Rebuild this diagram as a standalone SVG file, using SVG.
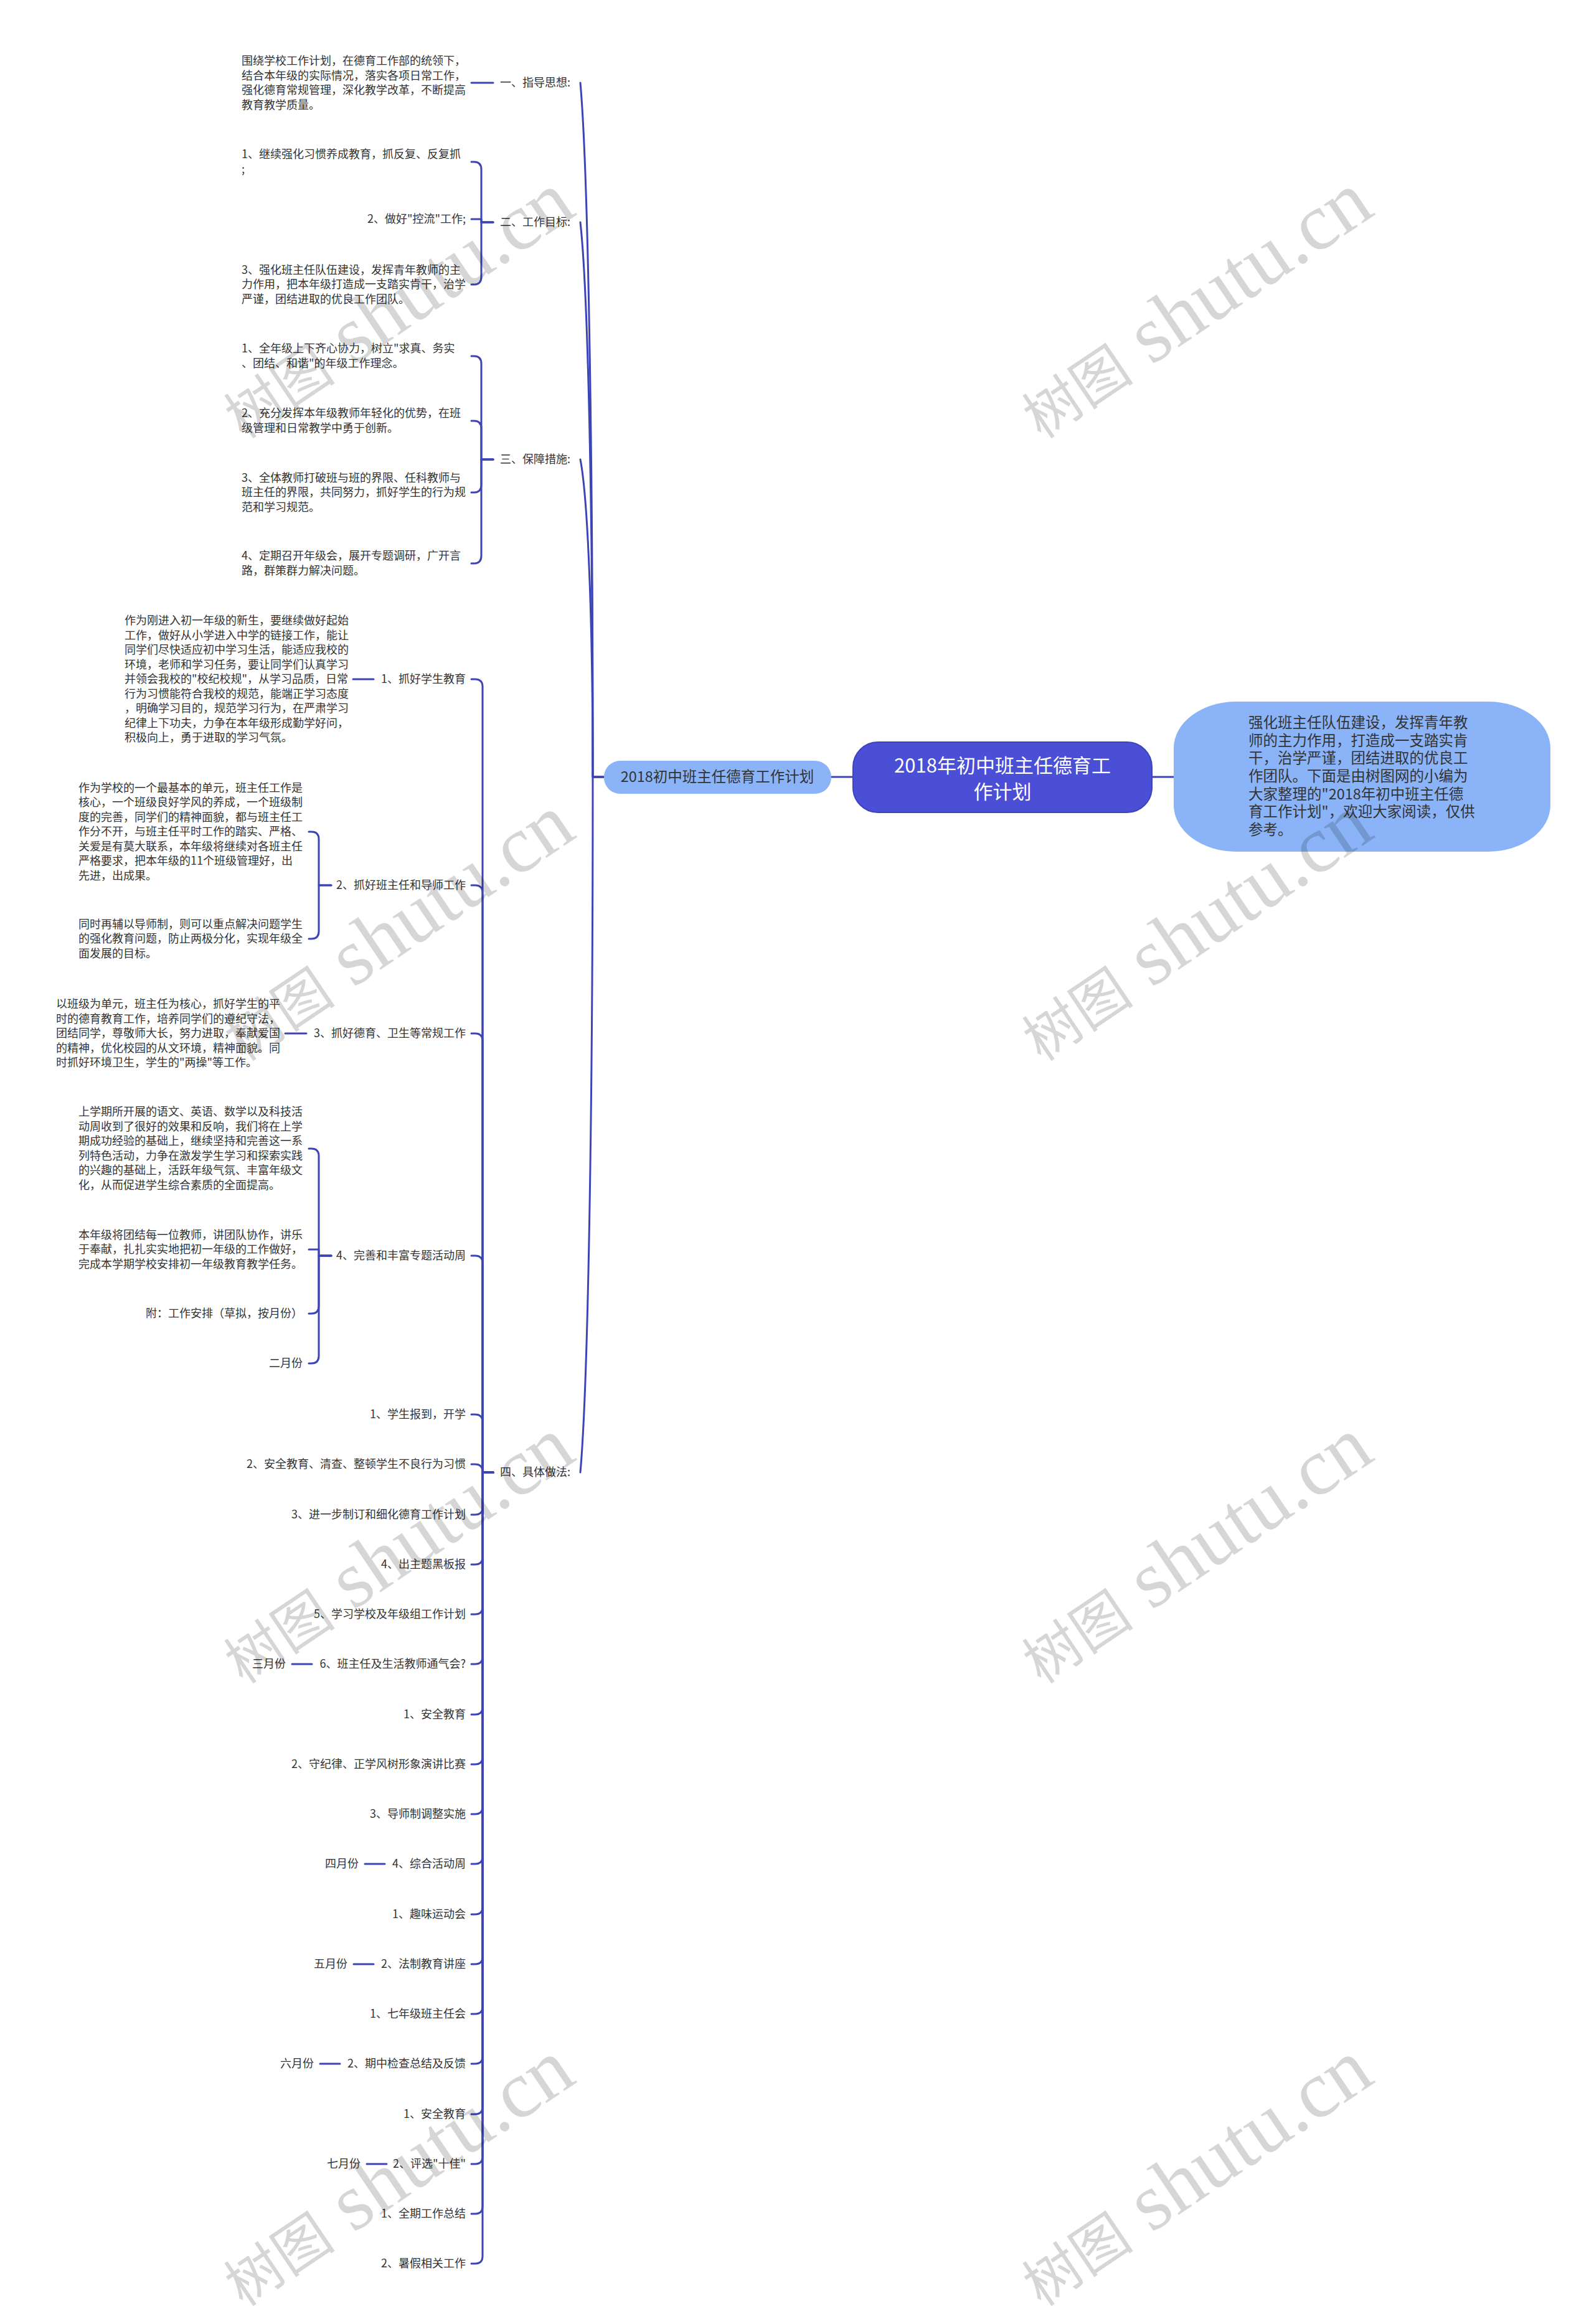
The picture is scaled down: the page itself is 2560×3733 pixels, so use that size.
<svg xmlns="http://www.w3.org/2000/svg" width="2560" height="3733" viewBox="0 0 2560 3733">
<style>
.t{font-family:"Noto Sans CJK SC","Noto Sans",sans-serif;font-size:18px;fill:#333}
.e{text-anchor:end}
.c{fill:none;stroke:#3d45b6;stroke-width:3;stroke-linecap:round;stroke-linejoin:round}
.wm{font-family:"Liberation Serif","Noto Sans CJK SC",serif;fill:#000;fill-opacity:0.16;text-anchor:middle}
</style>
<rect width="2560" height="3733" fill="#fff"/>
<g id="connectors">
<path class="c" d="M1335 1248H1370M1850 1248H1885"/>
<path class="c" d="M970 1248H952C952 690 944 267 932 133"/>
<path class="c" d="M970 1248H952C952 802 944 464 932 357"/>
<path class="c" d="M970 1248H952C952 993 944 799 932 738"/>
<path class="c" d="M970 1248H952C952 1807 944 2231 932 2365"/>
<path class="c" d="M792 133H757"/>
<path class="c" d="M792 357H773V272Q773 260 761 260H757"/>
<path class="c" d="M792 357H773V352H757"/>
<path class="c" d="M792 357H773V445Q773 457 761 457H757"/>
<path class="c" d="M792 738H773V584Q773 572 761 572H757"/>
<path class="c" d="M792 738H773V688Q773 676 761 676H757"/>
<path class="c" d="M792 738H773V779Q773 791 761 791H757"/>
<path class="c" d="M792 738H773V893Q773 905 761 905H757"/>
<path class="c" d="M792 2365H775V1103Q775 1091 763 1091H757"/>
<path class="c" d="M792 2365H775V1434Q775 1422 763 1422H757"/>
<path class="c" d="M792 2365H775V1672Q775 1660 763 1660H757"/>
<path class="c" d="M792 2365H775V2029Q775 2017 763 2017H757"/>
<path class="c" d="M792 2365H775V2284Q775 2272 763 2272H757"/>
<path class="c" d="M792 2365H775V2364Q775 2352 763 2352H757"/>
<path class="c" d="M792 2365H775V2421Q775 2433 763 2433H757"/>
<path class="c" d="M792 2365H775V2501Q775 2513 763 2513H757"/>
<path class="c" d="M792 2365H775V2581Q775 2593 763 2593H757"/>
<path class="c" d="M792 2365H775V2661Q775 2673 763 2673H757"/>
<path class="c" d="M792 2365H775V2742Q775 2754 763 2754H757"/>
<path class="c" d="M792 2365H775V2822Q775 2834 763 2834H757"/>
<path class="c" d="M792 2365H775V2902Q775 2914 763 2914H757"/>
<path class="c" d="M792 2365H775V2982Q775 2994 763 2994H757"/>
<path class="c" d="M792 2365H775V3063Q775 3075 763 3075H757"/>
<path class="c" d="M792 2365H775V3143Q775 3155 763 3155H757"/>
<path class="c" d="M792 2365H775V3223Q775 3235 763 3235H757"/>
<path class="c" d="M792 2365H775V3303Q775 3315 763 3315H757"/>
<path class="c" d="M792 2365H775V3384Q775 3396 763 3396H757"/>
<path class="c" d="M792 2365H775V3464Q775 3476 763 3476H757"/>
<path class="c" d="M792 2365H775V3544Q775 3556 763 3556H757"/>
<path class="c" d="M792 2365H775V3624Q775 3636 763 3636H757"/>
<path class="c" d="M600 1091H567"/>
<path class="c" d="M532 1422H512V1348Q512 1336 500 1336H496"/>
<path class="c" d="M532 1422H512V1496Q512 1508 500 1508H496"/>
<path class="c" d="M492 1660H458"/>
<path class="c" d="M532 2017H512V1857Q512 1845 500 1845H496"/>
<path class="c" d="M532 2017H512V2007H496"/>
<path class="c" d="M532 2017H512V2098Q512 2110 500 2110H496"/>
<path class="c" d="M532 2017H512V2178Q512 2190 500 2190H496"/>
<path class="c" d="M501 2673H469"/>
<path class="c" d="M618 2994H586"/>
<path class="c" d="M600 3155H568"/>
<path class="c" d="M546 3315H514"/>
<path class="c" d="M621 3476H589"/>
</g>
<g id="n-root">
<rect x="1370" y="1192" width="480" height="113" rx="40" fill="#4a4fd6" stroke="#3d42bf" stroke-width="2"/>
<text class="t" x="1610" y="1241" style="font-size:31px;fill:#fff;text-anchor:middle">2018年初中班主任德育工</text>
<text class="t" x="1610" y="1283" style="font-size:31px;fill:#fff;text-anchor:middle">作计划</text>
</g>
<g id="n-summary">
<rect x="1885" y="1127" width="605" height="241" rx="100" ry="75" fill="#8ab4f7"/>
<text class="t" style="font-size:23.5px">
<tspan x="2005" y="1169">强化班主任队伍建设，发挥青年教</tspan>
<tspan x="2005" y="1198">师的主力作用，打造成一支踏实肯</tspan>
<tspan x="2005" y="1226">干，治学严谨，团结进取的优良工</tspan>
<tspan x="2005" y="1255">作团队。下面是由树图网的小编为</tspan>
<tspan x="2005" y="1284">大家整理的"2018年初中班主任德</tspan>
<tspan x="2005" y="1312">育工作计划"，欢迎大家阅读，仅供</tspan>
<tspan x="2005" y="1341">参考。</tspan>
</text>
</g>
<g id="n-plan">
<rect x="970" y="1222" width="365" height="53" rx="26" fill="#8ab4f7"/>
<text class="t" x="1152" y="1256" style="font-size:23.5px;text-anchor:middle">2018初中班主任德育工作计划</text>
</g>
<g id="n-1">
<text class="t e" x="916" y="139">一、指导思想:</text>
<text class="t"><tspan x="388" y="104">围绕学校工作计划，在德育工作部的统领下，</tspan><tspan x="388" y="127.5">结合本年级的实际情况，落实各项日常工作，</tspan><tspan x="388" y="151">强化德育常规管理，深化教学改革，不断提高</tspan><tspan x="388" y="174.5">教育教学质量。</tspan></text>
</g>
<g id="n-2">
<text class="t e" x="916" y="363">二、工作目标:</text>
<text class="t"><tspan x="388" y="254">1、继续强化习惯养成教育，抓反复、反复抓</tspan><tspan x="388" y="278">;</tspan></text>
<text class="t e" x="748" y="358">2、做好"控流"工作;</text>
<text class="t"><tspan x="388" y="440">3、强化班主任队伍建设，发挥青年教师的主</tspan><tspan x="388" y="463">力作用，把本年级打造成一支踏实肯干，治学</tspan><tspan x="388" y="487">严谨，团结进取的优良工作团队。</tspan></text>
</g>
<g id="n-3">
<text class="t e" x="916" y="744">三、保障措施:</text>
<text class="t"><tspan x="388" y="566">1、全年级上下齐心协力，树立"求真、务实</tspan><tspan x="388" y="590">、团结、和谐"的年级工作理念。</tspan></text>
<text class="t"><tspan x="388" y="670">2、充分发挥本年级教师年轻化的优势，在班</tspan><tspan x="388" y="694">级管理和日常教学中勇于创新。</tspan></text>
<text class="t"><tspan x="388" y="774">3、全体教师打破班与班的界限、任科教师与</tspan><tspan x="388" y="797">班主任的界限，共同努力，抓好学生的行为规</tspan><tspan x="388" y="821">范和学习规范。</tspan></text>
<text class="t"><tspan x="388" y="899">4、定期召开年级会，展开专题调研，广开言</tspan><tspan x="388" y="923">路，群策群力解决问题。</tspan></text>
</g>
<g id="n-4">
<text class="t e" x="916" y="2371">四、具体做法:</text>
</g>
<g id="n-4-1">
<text class="t e" x="748" y="1097">1、抓好学生教育</text>
<text class="t"><tspan x="200" y="1003">作为刚进入初一年级的新生，要继续做好起始</tspan><tspan x="200" y="1026.5">工作，做好从小学进入中学的链接工作，能让</tspan><tspan x="200" y="1050">同学们尽快适应初中学习生活，能适应我校的</tspan><tspan x="200" y="1073.5">环境，老师和学习任务，要让同学们认真学习</tspan><tspan x="200" y="1097">并领会我校的"校纪校规"，从学习品质，日常</tspan><tspan x="200" y="1120.5">行为习惯能符合我校的规范，能端正学习态度</tspan><tspan x="200" y="1144">，明确学习目的，规范学习行为，在严肃学习</tspan><tspan x="200" y="1167.5">纪律上下功夫，力争在本年级形成勤学好问，</tspan><tspan x="200" y="1191">积极向上，勇于进取的学习气氛。</tspan></text>
</g>
<g id="n-4-2">
<text class="t e" x="748" y="1428">2、抓好班主任和导师工作</text>
<text class="t"><tspan x="126" y="1271.5">作为学校的一个最基本的单元，班主任工作是</tspan><tspan x="126" y="1295">核心，一个班级良好学风的养成，一个班级制</tspan><tspan x="126" y="1318.5">度的完善，同学们的精神面貌，都与班主任工</tspan><tspan x="126" y="1342">作分不开，与班主任平时工作的踏实、严格、</tspan><tspan x="126" y="1365.5">关爱是有莫大联系，本年级将继续对各班主任</tspan><tspan x="126" y="1389">严格要求，把本年级的11个班级管理好，出</tspan><tspan x="126" y="1412.5">先进，出成果。</tspan></text>
<text class="t"><tspan x="126" y="1490.5">同时再辅以导师制，则可以重点解决问题学生</tspan><tspan x="126" y="1514">的强化教育问题，防止两极分化，实现年级全</tspan><tspan x="126" y="1537.5">面发展的目标。</tspan></text>
</g>
<g id="n-4-3">
<text class="t e" x="748" y="1666">3、抓好德育、卫生等常规工作</text>
<text class="t"><tspan x="90" y="1619">以班级为单元，班主任为核心，抓好学生的平</tspan><tspan x="90" y="1642.5">时的德育教育工作，培养同学们的遵纪守法，</tspan><tspan x="90" y="1666">团结同学，尊敬师大长，努力进取，奉献爱国</tspan><tspan x="90" y="1689.5">的精神，优化校园的从文环境，精神面貌。同</tspan><tspan x="90" y="1713">时抓好环境卫生，学生的"两操"等工作。</tspan></text>
</g>
<g id="n-4-4">
<text class="t e" x="748" y="2023">4、完善和丰富专题活动周</text>
<text class="t"><tspan x="126" y="1792">上学期所开展的语文、英语、数学以及科技活</tspan><tspan x="126" y="1815.5">动周收到了很好的效果和反响，我们将在上学</tspan><tspan x="126" y="1839">期成功经验的基础上，继续坚持和完善这一系</tspan><tspan x="126" y="1862.5">列特色活动，力争在激发学生学习和探索实践</tspan><tspan x="126" y="1886">的兴趣的基础上，活跃年级气氛、丰富年级文</tspan><tspan x="126" y="1909.5">化，从而促进学生综合素质的全面提高。</tspan></text>
<text class="t"><tspan x="126" y="1989.5">本年级将团结每一位教师，讲团队协作，讲乐</tspan><tspan x="126" y="2013">于奉献，扎扎实实地把初一年级的工作做好，</tspan><tspan x="126" y="2036.5">完成本学期学校安排初一年级教育教学任务。</tspan></text>
<text class="t e" x="486" y="2116">附：工作安排（草拟，按月份）</text>
<text class="t e" x="486" y="2196">二月份</text>
</g>
<g id="n-4-items">
<text class="t e" x="748" y="2278">1、学生报到，开学</text>
<text class="t e" x="748" y="2358">2、安全教育、清查、整顿学生不良行为习惯</text>
<text class="t e" x="748" y="2439">3、进一步制订和细化德育工作计划</text>
<text class="t e" x="748" y="2519">4、出主题黑板报</text>
<text class="t e" x="748" y="2599">5、学习学校及年级组工作计划</text>
<text class="t e" x="748" y="2679">6、班主任及生活教师通气会?</text>
<text class="t e" x="459" y="2679">三月份</text>
<text class="t e" x="748" y="2760">1、安全教育</text>
<text class="t e" x="748" y="2840">2、守纪律、正学风树形象演讲比赛</text>
<text class="t e" x="748" y="2920">3、导师制调整实施</text>
<text class="t e" x="748" y="3000">4、综合活动周</text>
<text class="t e" x="576" y="3000">四月份</text>
<text class="t e" x="748" y="3081">1、趣味运动会</text>
<text class="t e" x="748" y="3161">2、法制教育讲座</text>
<text class="t e" x="558" y="3161">五月份</text>
<text class="t e" x="748" y="3241">1、七年级班主任会</text>
<text class="t e" x="748" y="3321">2、期中检查总结及反馈</text>
<text class="t e" x="504" y="3321">六月份</text>
<text class="t e" x="748" y="3402">1、安全教育</text>
<text class="t e" x="748" y="3482">2、评选"十佳"</text>
<text class="t e" x="579" y="3482">七月份</text>
<text class="t e" x="748" y="3562">1、全期工作总结</text>
<text class="t e" x="748" y="3642">2、暑假相关工作</text>
</g>
<g id="watermarks">
<text class="wm" transform="rotate(-34 643 500)" x="643" y="530"><tspan style="font-size:90px">树图</tspan><tspan style="font-size:130px"> shutu.cn</tspan></text>
<text class="wm" transform="rotate(-34 1925 500)" x="1925" y="530"><tspan style="font-size:90px">树图</tspan><tspan style="font-size:130px"> shutu.cn</tspan></text>
<text class="wm" transform="rotate(-34 643 1500)" x="643" y="1530"><tspan style="font-size:90px">树图</tspan><tspan style="font-size:130px"> shutu.cn</tspan></text>
<text class="wm" transform="rotate(-34 1925 1500)" x="1925" y="1530"><tspan style="font-size:90px">树图</tspan><tspan style="font-size:130px"> shutu.cn</tspan></text>
<text class="wm" transform="rotate(-34 643 2500)" x="643" y="2530"><tspan style="font-size:90px">树图</tspan><tspan style="font-size:130px"> shutu.cn</tspan></text>
<text class="wm" transform="rotate(-34 1925 2500)" x="1925" y="2530"><tspan style="font-size:90px">树图</tspan><tspan style="font-size:130px"> shutu.cn</tspan></text>
<text class="wm" transform="rotate(-34 643 3500)" x="643" y="3530"><tspan style="font-size:90px">树图</tspan><tspan style="font-size:130px"> shutu.cn</tspan></text>
<text class="wm" transform="rotate(-34 1925 3500)" x="1925" y="3530"><tspan style="font-size:90px">树图</tspan><tspan style="font-size:130px"> shutu.cn</tspan></text>
</g>
</svg>
